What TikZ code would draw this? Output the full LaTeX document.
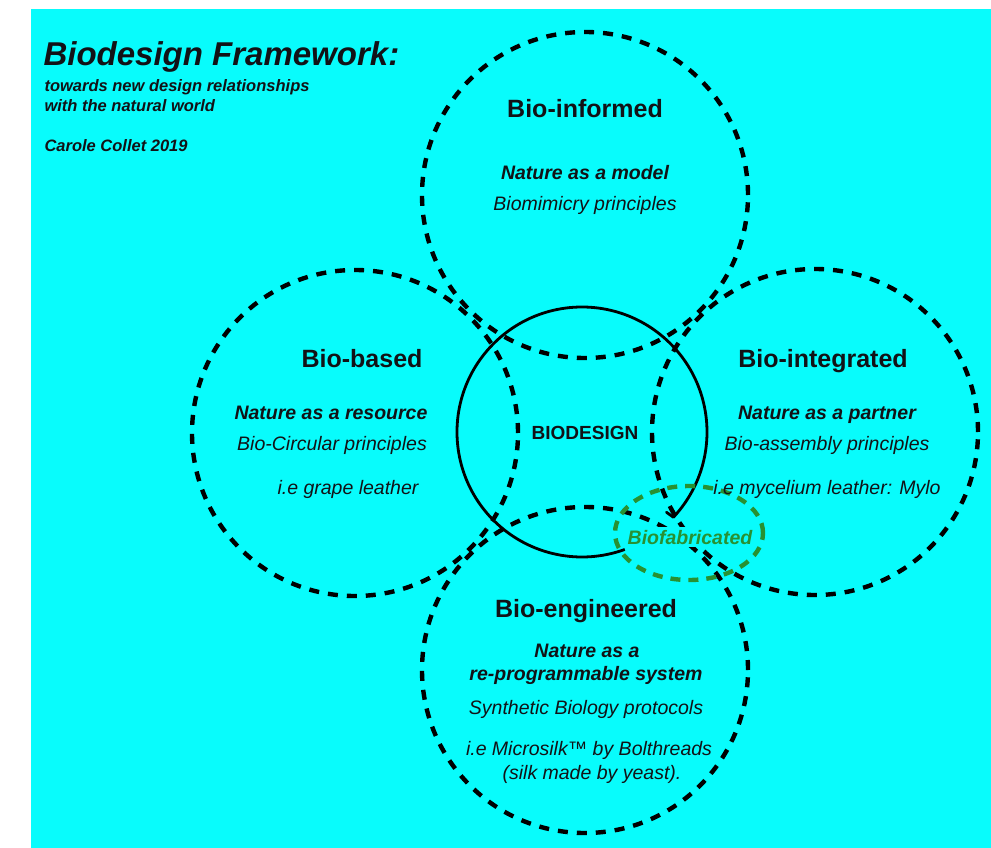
\documentclass[tikz,border=0pt]{standalone}
\usepackage{fontspec}
\setmainfont{Liberation Sans}
\usetikzlibrary{shapes.geometric}
\definecolor{bgcyan}{RGB}{8,252,252}
\definecolor{biogreen}{RGB}{40,145,50}
\definecolor{ink}{RGB}{18,18,22}
\tikzset{
  ring/.style={circle, draw=black, line width=4.4pt, dash pattern=on 10pt off 9pt,
    minimum size=326pt, inner sep=0pt, outer sep=0pt},
  corering/.style={circle, minimum size=250pt, inner sep=0pt, outer sep=0pt},
  fabring/.style={ellipse, draw=biogreen, line width=4.4pt, dash pattern=on 10pt off 8pt,
    minimum width=148pt, minimum height=94pt, inner sep=0pt, outer sep=0pt},
  head/.style={anchor=base, text=ink, font=\fontsize{25}{30}\selectfont\bfseries},
  lead/.style={anchor=base, text=ink, font=\fontsize{19.5}{23}\selectfont\bfseries\itshape},
  body/.style={anchor=base, text=ink, font=\fontsize{19.5}{23}\selectfont\itshape},
  titletext/.style={anchor=base west, text=ink, font=\fontsize{33}{39}\selectfont\bfseries\itshape},
  subtext/.style={anchor=base west, text=ink, font=\fontsize{16.5}{20}\selectfont\bfseries\itshape},
}
\begin{document}
\begin{tikzpicture}[x=1pt,y=-1pt]
\useasboundingbox (0,0) rectangle (991,848);
\fill[white] (0,0) rectangle (991,848);
\fill[bgcyan] (31,9) rectangle (991,848);

% title block
\node[titletext] (title) at (40,66) {Biodesign Framework:};
\node[subtext] (sub1) at (41,92) {towards new design relationships};
\node[subtext] (sub2) at (41,112) {with the natural world};
\node[subtext] (author) at (41,152) {Carole Collet 2019};

% four dashed circles
\node[ring] (informed) at (585,195) {};
\node[ring] (based) at (355,433) {};
\node[ring] (integrated) at (815,432) {};
\node[ring] (engineered) at (585,670) {};

% solid core circle with a gap
\node[corering] (core) at (582,432) {};
\draw[line width=2.8pt, black, line join=round] (core.-43) arc[start angle=-43, end angle=290, radius=125pt];
\draw[line width=2.8pt, black, line cap=round] (core.-43) -- ++(-7,-5);

% biofabricated label (masks the lines behind it) and ellipse
\node[anchor=base, fill=bgcyan, inner sep=2.5pt, text=biogreen,
      font=\fontsize{19.5}{23}\selectfont\bfseries\itshape] (tFab) at (690,544) {Biofabricated};
\node[fabring] (fab) at (689,533) {};

% labels
\node[head] (tInformed) at (585,118) {Bio-informed};
\node[lead] (lInformed) at (585,179) {Nature as a model};
\node[body] (bInformed) at (585,210) {Biomimicry principles};

\node[head] (tBased) at (362,367) {Bio-based};
\node[lead] (lBased) at (331,419) {Nature as a resource};
\node[body] (bBased) at (332,450) {Bio-Circular principles};
\node[body] (eBased) at (348,494) {i.e grape leather};

\node[head] (tIntegrated) at (823,367) {Bio-integrated};
\node[lead] (lIntegrated) at (827,419) {Nature as a partner};
\node[body] (bIntegrated) at (827,450) {Bio-assembly principles};
\node[body] (eIntegrated) at (827,494) {i.e mycelium leather: Mylo};

\node[anchor=base, text=ink, font=\fontsize{19}{22}\selectfont\bfseries] (biodesign) at (585,439) {BIODESIGN};

\node[head] (tEngineered) at (586,617) {Bio-engineered};
\node[lead] (lEngineered1) at (587,657) {Nature as a};
\node[lead] (lEngineered2) at (586,680) {re-programmable system};
\node[body] (bEngineered) at (586,714) {Synthetic Biology protocols};
\node[body] (eEngineered1) at (589,755) {i.e Microsilk™ by Bolthreads};
\node[body] (eEngineered2) at (592,779) {(silk made by yeast).};
\end{tikzpicture}
\end{document}
